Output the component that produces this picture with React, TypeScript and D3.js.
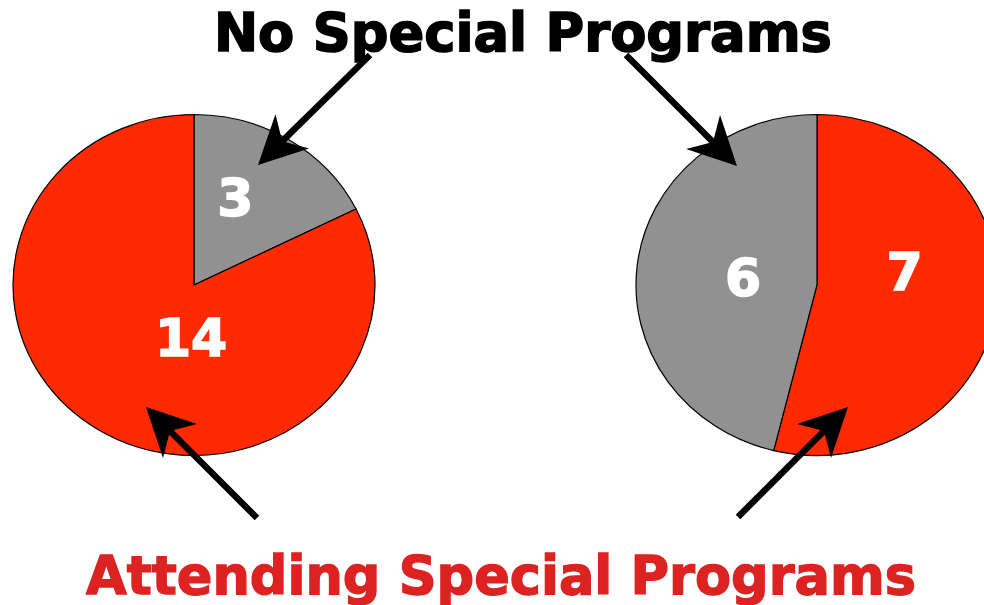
import React from "react";
import * as d3 from "d3";

const W = 984;
const H = 605;

const pieLeft = [3, 14];
const pieRight = [7, 6];
const colorsLeft = ["#919191", "#FF2A00"];
const colorsRight = ["#FF2A00", "#919191"];
// label placement inside each slice: [angle in degrees clockwise from top, radius fraction]
const labelPlaceLeft: [number, number][] = [[24, 0.56], [183, 0.31]];
const labelPlaceRight: [number, number][] = [[81, 0.49], [276, 0.41]];
const titleTop = "No Special Programs";
const titleBottom = "Attending Special Programs";

type Arrow = { from: [number, number]; to: [number, number] };
const arrows: Arrow[] = [
  { from: [370, 55], to: [258, 165] },
  { from: [626, 55], to: [737, 166] },
  { from: [257, 518], to: [146, 407] },
  { from: [738, 517], to: [848, 407] },
];

const RX = 181;
const RY = 170.5;

function Pie({ cx, cy, values, colors }: { cx: number; cy: number; values: number[]; colors: string[] }) {
  const pie = d3.pie<number>().sort(null).value((d) => d);
  const arcs = pie(values);
  const arc = d3.arc<d3.PieArcDatum<number>>().innerRadius(0).outerRadius(RY);
  const sx = RX / RY;
  return (
    <g transform={`translate(${cx},${cy})`}>
      <g transform={`scale(${sx},1)`}>
        {arcs.map((a, i) => (
          <path
            key={i}
            d={arc(a) || ""}
            fill={colors[i]}
            stroke="#000"
            strokeWidth={1.2}
            vectorEffect="non-scaling-stroke"
          />
        ))}
      </g>
    </g>
  );
}

function ArrowShape({ from, to }: Arrow) {
  const dx = to[0] - from[0];
  const dy = to[1] - from[1];
  const len = Math.hypot(dx, dy);
  const ux = dx / len;
  const uy = dy / len;
  const px = -uy;
  const py = ux;
  const headLen = 48;
  const headHalf = 24;
  const notch = 34;
  const bx = to[0] - ux * headLen;
  const by = to[1] - uy * headLen;
  const nx = to[0] - ux * notch;
  const ny = to[1] - uy * notch;
  const pts = [
    [to[0], to[1]],
    [bx + px * headHalf, by + py * headHalf],
    [nx, ny],
    [bx - px * headHalf, by - py * headHalf],
  ];
  return (
    <g>
      <line x1={from[0]} y1={from[1]} x2={nx} y2={ny} stroke="#000" strokeWidth={6.5} />
      <polygon points={pts.map((p) => p.join(",")).join(" ")} fill="#000" />
    </g>
  );
}

export default function App() {
  const font = "'DejaVu Sans', Verdana, sans-serif";
  const lcx = 194, rcx = 817, cy = 285;
  const sx = RX / RY;
  const pos = (place: [number, number], cx: number): [number, number] => {
    const t = (place[0] * Math.PI) / 180;
    const r = RY * place[1];
    return [cx + Math.sin(t) * r * sx, cy - Math.cos(t) * r];
  };
  const leftLabels = labelPlaceLeft.map((p) => pos(p, lcx));
  const rightLabels = labelPlaceRight.map((p) => pos(p, rcx));
  const labelStyle = {
    fill: "#fff",
    stroke: "#fff",
    strokeWidth: 1.6,
    fontFamily: font,
    fontWeight: "bold" as const,
    fontSize: 52,
  };
  return (
    <svg width={W} height={H} style={{ position: "absolute", left: 0, top: 0, background: "#fff" }}>
      <Pie cx={lcx} cy={cy} values={pieLeft} colors={colorsLeft} />
      <Pie cx={rcx} cy={cy} values={pieRight} colors={colorsRight} />
      {pieLeft.map((v, i) => (
        <text key={"l" + i} x={leftLabels[i][0]} y={leftLabels[i][1]} textAnchor="middle" dominantBaseline="central" {...labelStyle}>
          {v}
        </text>
      ))}
      {pieRight.map((v, i) => (
        <text key={"r" + i} x={rightLabels[i][0]} y={rightLabels[i][1]} textAnchor="middle" dominantBaseline="central" {...labelStyle}>
          {v}
        </text>
      ))}
      {arrows.map((a, i) => (
        <ArrowShape key={i} {...a} />
      ))}
      <text x={523} y={51} textAnchor="middle" fontFamily={font} fontWeight="bold" fontSize={54} fill="#000"
        stroke="#000" strokeWidth={1.6} textLength={618} lengthAdjust="spacingAndGlyphs">
        {titleTop}
      </text>
      <text x={501} y={594} textAnchor="middle" fontFamily={font} fontWeight="bold" fontSize={53} fill="#DD2222"
        stroke="#DD2222" strokeWidth={1.4} textLength={830} lengthAdjust="spacingAndGlyphs">
        {titleBottom}
      </text>
    </svg>
  );
}
